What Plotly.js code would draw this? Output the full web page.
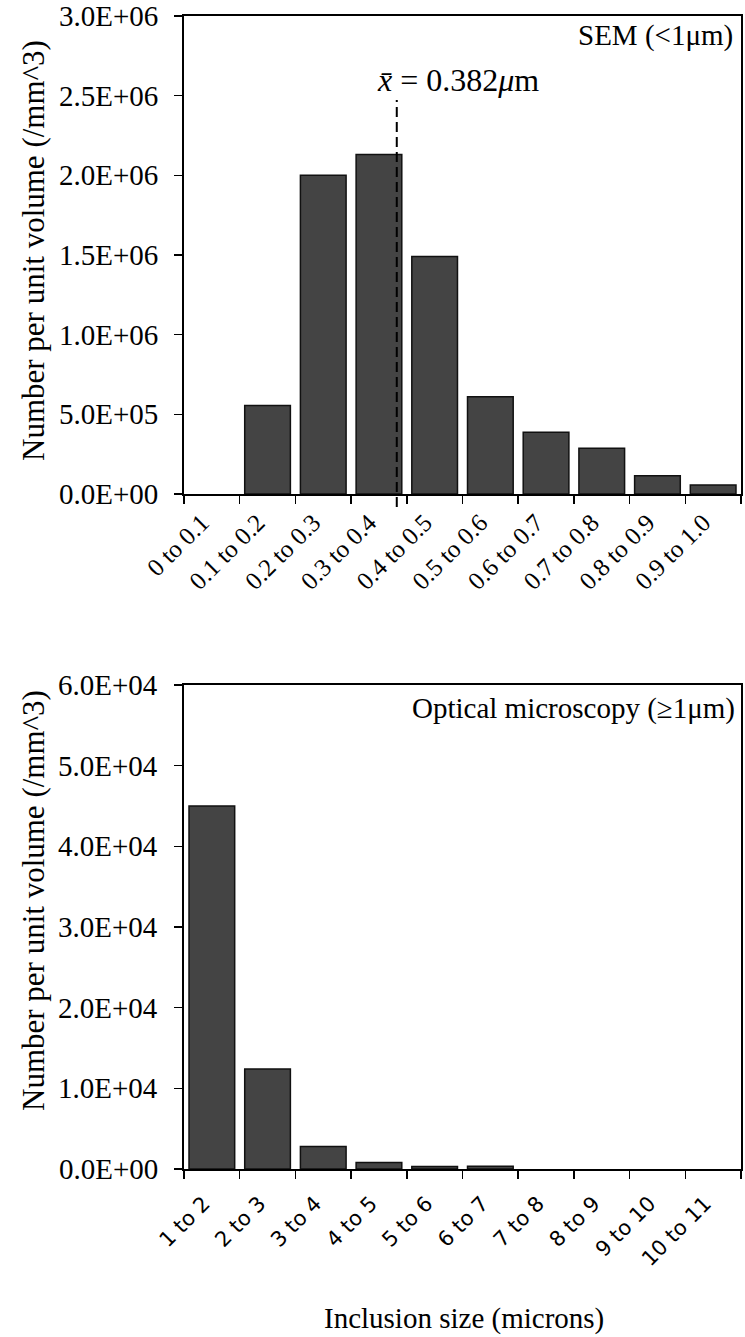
<!DOCTYPE html>
<html>
<head>
<meta charset="utf-8">
<script src="https://cdn.plot.ly/plotly-3.0.1.min.js"></script>
<style>
  html, body { margin: 0; padding: 0; background: #fff; }
  #chart { width: 745px; height: 1337px; }
</style>
</head>
<body>
<div id="chart"></div>
<script>
// Inclusion size distributions: SEM (sub-micron) and optical microscopy (>= 1 micron)
const semBins = ['0 to 0.1', '0.1 to 0.2', '0.2 to 0.3', '0.3 to 0.4', '0.4 to 0.5',
                 '0.5 to 0.6', '0.6 to 0.7', '0.7 to 0.8', '0.8 to 0.9', '0.9 to 1.0'];
const semCounts = [0, 5.55e5, 2.0e6, 2.13e6, 1.49e6, 6.1e5, 3.87e5, 2.87e5, 1.15e5, 5.7e4];
const semTickVals = [0, 5e5, 1e6, 1.5e6, 2e6, 2.5e6, 3e6];

const opticalBins = ['1 to 2', '2 to 3', '3 to 4', '4 to 5', '5 to 6',
                     '6 to 7', '7 to 8', '8 to 9', '9 to 10', '10 to 11'];
const opticalCounts = [4.5e4, 1.24e4, 2.8e3, 800, 300, 350, 0, 0, 0, 0];
const opticalTickVals = [0, 1e4, 2e4, 3e4, 4e4, 5e4, 6e4];

// Mean SEM inclusion size (microns) and SEM bin width
const semMean = 0.382;
const semBinWidth = 0.1;

// "3.0E+06" style value text
function sci(v) {
  if (v === 0) return '0.0E+00';
  const e = Math.floor(Math.log10(v) + 1e-9);
  const m = v / Math.pow(10, e);
  return m.toFixed(1) + 'E' + (e < 0 ? '-' : '+') + String(Math.abs(e)).padStart(2, '0');
}

const serif = 'Liberation Serif, Times New Roman, serif';
const barFill = '#444444';
const barEdge = '#111111';
// empty bins get no outline so nothing sits on the axis line
const edgeWidths = vals => vals.map(v => (v > 0 ? 1.5 : 0));

const traces = [
  {
    type: 'bar', x: semBins, y: semCounts, xaxis: 'x', yaxis: 'y',
    marker: { color: barFill, line: { color: barEdge, width: edgeWidths(semCounts) } },
    hoverinfo: 'x+y'
  },
  {
    type: 'bar', x: opticalBins, y: opticalCounts, xaxis: 'x2', yaxis: 'y2',
    marker: { color: barFill, line: { color: barEdge, width: edgeWidths(opticalCounts) } },
    hoverinfo: 'x+y'
  }
];

const axisCommon = {
  showline: true, linecolor: '#000', linewidth: 2, mirror: true,
  showgrid: false, zeroline: false,
  ticks: 'outside', ticklen: 8, tickwidth: 1.5, tickcolor: '#000'
};

// paper coordinates for plot-area layout
const H = 1337, T = 16, B = 168, L = 184, R = 4;
const plotH = H - T - B;
const plotW = 745 - L - R;
const py = px => (H - B - px) / plotH;   // pixel row -> paper y
const pxX = px => (px - L) / plotW;      // pixel column -> paper x

const meanPos = -0.5 + semMean / semBinWidth;

// value-axis labels set a little further out from the ticks
const valueLabels = (vals, yref) => vals.map(v => ({
  text: sci(v), xref: 'paper', yref: yref, x: pxX(160), y: v,
  xanchor: 'right', yanchor: 'middle', showarrow: false,
  font: { family: serif, size: 29, color: '#000' }
}));

const layout = {
  width: 745, height: 1337,
  margin: { l: L, r: R, t: T, b: B },
  paper_bgcolor: '#fff', plot_bgcolor: '#fff',
  showlegend: false,
  bargap: 0.18,
  font: { family: serif, color: '#000', size: 29 },
  xaxis: Object.assign({}, axisCommon, {
    domain: [0, 1], anchor: 'y', type: 'category', tickson: 'boundaries',
    tickangle: -45, tickfont: { family: serif, size: 25, color: '#000' },
    ticklabelstandoff: 2, ticklabelshift: -10
  }),
  yaxis: Object.assign({}, axisCommon, {
    domain: [py(494), 1], anchor: 'x', range: [0, 3e6],
    tickvals: semTickVals, showticklabels: false
  }),
  xaxis2: Object.assign({}, axisCommon, {
    domain: [0, 1], anchor: 'y2', type: 'category', tickson: 'boundaries',
    tickangle: -45, tickfont: { family: 'DejaVu Sans, sans-serif', size: 21, color: '#000' },
    ticklabelstandoff: 12, ticklabelshift: -8
  }),
  yaxis2: Object.assign({}, axisCommon, {
    domain: [0, py(685)], anchor: 'x2', range: [0, 6e4],
    tickvals: opticalTickVals, showticklabels: false
  }),
  shapes: [
    {
      type: 'line', xref: 'x', yref: 'paper',
      x0: meanPos, x1: meanPos, y0: py(507), y1: py(100),
      line: { color: '#000', width: 2, dash: '10px,5px' }, layer: 'above'
    }
  ],
  annotations: [
    ...valueLabels(semTickVals, 'y'),
    ...valueLabels(opticalTickVals, 'y2'),
    {
      text: 'Number per unit volume (/mm^3)', textangle: -90,
      xref: 'paper', yref: 'paper', x: pxX(33), y: py(251),
      xanchor: 'center', yanchor: 'middle', showarrow: false,
      font: { family: serif, size: 31, color: '#000' }
    },
    {
      text: 'Number per unit volume (/mm^3)', textangle: -90,
      xref: 'paper', yref: 'paper', x: pxX(33), y: py(901),
      xanchor: 'center', yanchor: 'middle', showarrow: false,
      font: { family: serif, size: 31, color: '#000' }
    },
    {
      text: 'SEM (<1μm)',
      xref: 'paper', yref: 'paper', x: pxX(735), y: py(36),
      xanchor: 'right', yanchor: 'middle', showarrow: false,
      font: { family: serif, size: 29, color: '#000' }
    },
    {
      text: 'Optical microscopy (≥1μm)',
      xref: 'paper', yref: 'paper', x: pxX(737), y: py(708),
      xanchor: 'right', yanchor: 'middle', showarrow: false,
      font: { family: serif, size: 29, color: '#000' }
    },
    {
      text: '<i>x̄</i> = 0.382<i>μ</i>m',
      xref: 'x', yref: 'paper', x: meanPos, xshift: -22, y: py(80),
      xanchor: 'left', yanchor: 'middle', showarrow: false,
      font: { family: serif, size: 32, color: '#000' }
    },
    {
      text: 'Inclusion size (microns)',
      xref: 'paper', yref: 'paper', x: pxX(464), y: py(1318),
      xanchor: 'center', yanchor: 'middle', showarrow: false,
      font: { family: serif, size: 29, color: '#000' }
    }
  ]
};

Plotly.newPlot('chart', traces, layout, { displayModeBar: false, staticPlot: true });
</script>
</body>
</html>
